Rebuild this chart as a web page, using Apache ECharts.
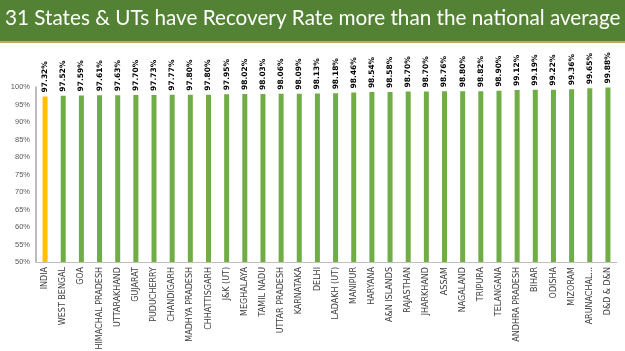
<!DOCTYPE html>
<html>
<head>
<meta charset="utf-8">
<script src="https://cdn.jsdelivr.net/npm/echarts@6/dist/echarts.min.js"></script>
<style>
html, body { margin: 0; padding: 0; background: #fff; }
#main { width: 625px; height: 351px; }
</style>
</head>
<body>
<div id="main"></div>
<script>
var titleText = '31 States & UTs have Recovery Rate more than the national average';

var states = ['INDIA', 'WEST BENGAL', 'GOA', 'HIMACHAL PRADESH', 'UTTARAKHAND', 'GUJARAT',
	'PUDUCHERRY', 'CHANDIGARH', 'MADHYA PRADESH', 'CHHATTISGARH', 'J&K (UT)', 'MEGHALAYA',
	'TAMIL NADU', 'UTTAR PRADESH', 'KARNATAKA', 'DELHI', 'LADAKH (UT)', 'MANIPUR', 'HARYANA',
	'A&N ISLANDS', 'RAJASTHAN', 'JHARKHAND', 'ASSAM', 'NAGALAND', 'TRIPURA', 'TELANGANA',
	'ANDHRA PRADESH', 'BIHAR', 'ODISHA', 'MIZORAM', 'ARUNACHAL...', 'D&D & D&N'];

var recoveryRate = [97.32, 97.52, 97.59, 97.61, 97.63, 97.70, 97.73, 97.77, 97.80, 97.80,
	97.95, 98.02, 98.03, 98.06, 98.09, 98.13, 98.18, 98.46, 98.54, 98.58, 98.70, 98.70,
	98.76, 98.80, 98.82, 98.90, 99.12, 99.19, 99.22, 99.36, 99.65, 99.88];

var yMin = 50, yMax = 100, yStep = 5;

var chart = echarts.init(document.getElementById('main'));

var barData = [];
for (var i = 0; i < recoveryRate.length; i++) {
	barData.push({
		value : recoveryRate[i],
		itemStyle : { color : i == 0 ? '#FFC000' : '#70AD47' } // india highlighted
	});
}

var option = {
	backgroundColor : '#ffffff',
	animation : false,
	graphic : [ {
		type : 'rect',
		left : 0, top : 0,
		shape : { width : 625, height : 41 },
		style : { fill : '#548235' }
	}, {
		type : 'rect',
		left : 0, top : 41,
		shape : { width : 625, height : 2 },
		style : { fill : '#C8A165' }
	}, {
		type : 'text',
		left : 5, top : 8,
		style : {
			text : titleText,
			fill : '#ffffff',
			font : '20.7px Lato, "Open Sans", sans-serif'
		}
	} ],
	grid : {
		left : 36,
		right : 8,
		top : 87,
		bottom : 89,
		outerBoundsMode : 'none' // let long names run off the bottom like the slide
	},
	xAxis : {
		type : 'category',
		data : states,
		axisLine : { show : true, lineStyle : { color : '#BFBFBF', width : 1 } },
		axisTick : { show : false },
		axisLabel : {
			rotate : 90,
			interval : 0,
			margin : 5,
			color : '#404040',
			fontSize : 8,
			fontFamily : 'DejaVu Sans'
		}
	},
	yAxis : {
		type : 'value',
		min : yMin,
		max : yMax,
		interval : yStep,
		splitLine : { show : false },
		axisLine : { show : true, lineStyle : { color : '#A6A6A6', width : 1.5 } },
		axisTick : { show : false },
		axisLabel : {
			formatter : '{value}%',
			color : '#595959',
			fontSize : 7.5,
			margin : 6,
			fontFamily : 'Liberation Sans'
		}
	},
	series : [ {
		type : 'bar',
		data : barData,
		barWidth : 5,
		label : {
			show : true,
			position : 'top',
			rotate : 90,
			align : 'left',
			verticalAlign : 'middle',
			distance : 4,
			formatter : function(p) { return p.value.toFixed(2) + '%'; },
			color : '#000000',
			fontWeight : 'bold',
			fontSize : 7.5,
			fontFamily : 'DejaVu Sans'
		}
	} ]
};

chart.setOption(option);
</script>
</body>
</html>
